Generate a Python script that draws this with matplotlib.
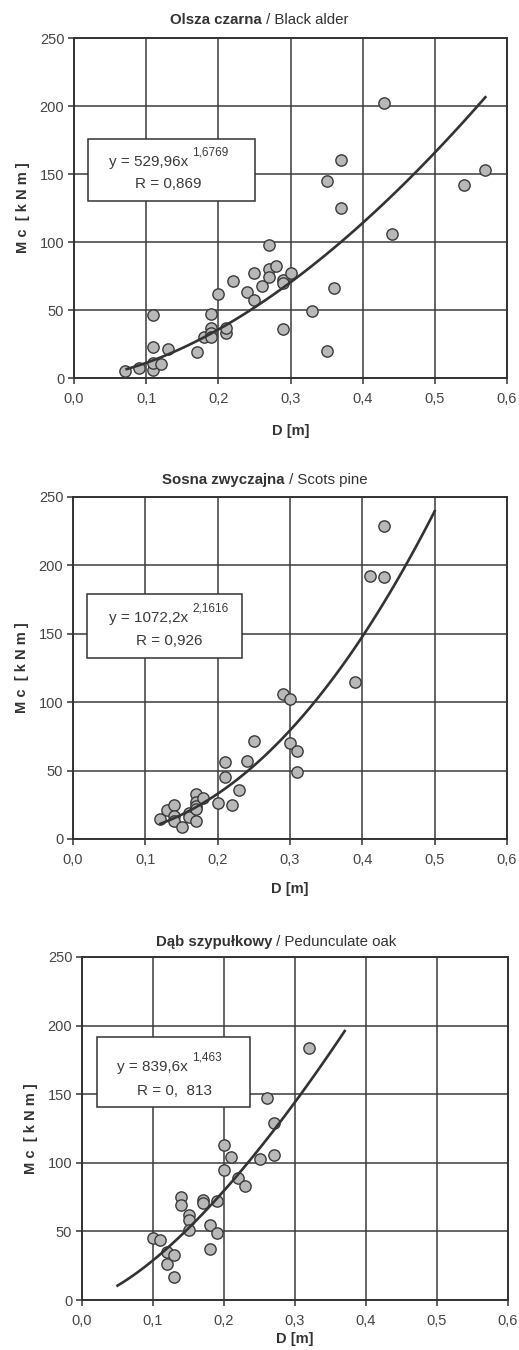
import numpy as np
import matplotlib.pyplot as plt
from matplotlib.patches import Rectangle

plt.rcParams['font.family'] = ['Liberation Sans', 'DejaVu Sans']

# Olsza czarna / Black alder
alder_d = [0.07, 0.09, 0.11, 0.11, 0.11, 0.11, 0.12, 0.13, 0.17, 0.18, 0.19, 0.19,
           0.19, 0.19, 0.20, 0.21, 0.21, 0.22, 0.24, 0.25, 0.25, 0.26, 0.27, 0.27,
           0.27, 0.28, 0.29, 0.29, 0.29, 0.30, 0.33, 0.35, 0.35, 0.36, 0.37, 0.37,
           0.43, 0.44, 0.54, 0.57]
alder_mc = [5, 7, 46, 23, 6, 11, 10, 21.5, 19, 30, 47, 37, 33, 30, 61.5, 33, 37, 71,
            63, 77, 57, 68, 98, 80, 74, 82, 72, 70, 36, 77, 49, 145, 20, 66, 160, 125,
            202, 106, 142, 153]

# Sosna zwyczajna / Scots pine
pine_d = [0.12, 0.13, 0.14, 0.14, 0.14, 0.15, 0.16, 0.16, 0.17, 0.17, 0.17, 0.17,
          0.17, 0.18, 0.20, 0.21, 0.21, 0.22, 0.23, 0.24, 0.25, 0.29, 0.30, 0.30,
          0.31, 0.31, 0.39, 0.41, 0.43, 0.43]
pine_mc = [14.5, 21, 25, 17, 13, 9, 19, 16, 33, 27, 24, 22, 13, 30, 26, 56, 45, 25,
           36, 57, 72, 106, 102, 70, 64, 49, 115, 192.5, 191.5, 229]

# Dąb szypułkowy / Pedunculate oak
oak_d = [0.10, 0.11, 0.12, 0.12, 0.13, 0.13, 0.14, 0.14, 0.15, 0.15, 0.15, 0.17,
         0.17, 0.18, 0.18, 0.19, 0.19, 0.20, 0.20, 0.21, 0.22, 0.23, 0.25, 0.26,
         0.27, 0.27, 0.32]
oak_mc = [45, 44, 35, 26, 33, 17, 75, 69, 62, 58, 51, 73, 71, 55, 37, 49, 72, 113,
          95, 104, 89, 83, 103, 147, 129, 106, 184]

# trend lines y = a * x^b, drawn over the range shown
fit_a = [529.96, 1072.2, 839.6]
fit_b = [1.6769, 2.1616, 1.463]
fit_range = [(0.073, 0.57), (0.121, 0.50), (0.05, 0.37)]

eq_main = ['y = 529,96x', 'y = 1072,2x', 'y = 839,6x']
eq_pow = ['1,6769', '2,1616', '1,463']
eq_r = ['R = 0,869', 'R = 0,926', 'R = 0,  813']

titles_bold = ['Olsza czarna', 'Sosna zwyczajna', 'Dąb szypułkowy']
titles_norm = [' / Black alder', ' / Scots pine', ' / Pedunculate oak']

xticks = [0.0, 0.1, 0.2, 0.3, 0.4, 0.5, 0.6]
yticks = [0, 50, 100, 150, 200, 250]

# layout in pixels (left, top, right, bottom), title split x, title y
W, H = 519, 1350
boxes_px = [(74, 38, 507, 378), (73, 497, 507, 839), (82, 957, 508, 1300)]
title_px = [(262, 20), (285, 480), (272, 942)]
xlabel_pad = [13, 11, 3]
# equation box (x0, x1, y0, y1) in data, text positions in data
eq_box = [(0.019, 0.251, 130, 175.6), (0.0198, 0.234, 132, 179), (0.021, 0.237, 141, 192)]
eq_xy = [(0.103, 158.8), (0.105, 161.5), (0.099, 170)]
r_xy = [(0.130, 143), (0.133, 145), (0.1296, 152.5)]

dark = '#333333'

fig = plt.figure(figsize=(W / 100, H / 100), dpi=100)

panels = [(alder_d, alder_mc), (pine_d, pine_mc), (oak_d, oak_mc)]
for i, (d, mc) in enumerate(panels):
    l, t, r, b = boxes_px[i]
    ax = fig.add_axes([l / W, 1 - b / H, (r - l) / W, (b - t) / H])
    ax.set_xlim(0, 0.6)
    ax.set_ylim(0, 250)
    ax.set_xticks(xticks)
    ax.set_yticks(yticks)
    ax.set_xticklabels([('%.1f' % v).replace('.', ',') for v in xticks])
    ax.grid(True, color='#3c3c3c', lw=1.1)
    ax.set_axisbelow(True)
    for s in ax.spines.values():
        s.set_color(dark)
        s.set_linewidth(1.4)
    ax.tick_params(direction='out', length=4, width=1.1, color=dark,
                   labelsize=10.5, labelcolor='#454545')
    ax.tick_params(axis='x', pad=6)
    ax.tick_params(axis='y', pad=3)

    ax.scatter(d, mc, s=66, c='#b8b8b8', edgecolors='#3a3a3a', linewidths=1.0, zorder=3)

    x0, x1 = fit_range[i]
    xs = np.linspace(x0, x1, 100)
    ax.plot(xs, fit_a[i] * xs ** fit_b[i], color=dark, lw=1.9, zorder=4)

    bx0, bx1, by0, by1 = eq_box[i]
    ax.add_patch(Rectangle((bx0, by0), bx1 - bx0, by1 - by0, facecolor='white',
                           edgecolor=dark, lw=1.1, zorder=5))
    tx = ax.text(eq_xy[i][0], eq_xy[i][1], eq_main[i], ha='center', va='center',
                 fontsize=11, color='#3a3a3a', zorder=6)
    ax.annotate(eq_pow[i], xy=(1, 0.72), xycoords=tx, xytext=(3, 0),
                textcoords='offset points', ha='left', va='bottom',
                fontsize=8.5, color='#3a3a3a', zorder=6)
    ax.text(r_xy[i][0], r_xy[i][1], eq_r[i], ha='center', va='center',
            fontsize=11, color='#3a3a3a', zorder=6)

    ax.set_ylabel('M c  [ k N m ]', fontsize=10.5, fontweight='bold', color=dark, labelpad=7)
    ax.set_xlabel('D [m]', fontsize=10.5, fontweight='bold', color=dark,
                  labelpad=xlabel_pad[i])

    sx, sy = title_px[i]
    fig.text(sx / W, 1 - sy / H, titles_bold[i], ha='right', va='center',
             fontsize=10.8, fontweight='bold', color=dark)
    fig.text(sx / W, 1 - sy / H, titles_norm[i], ha='left', va='center',
             fontsize=10.8, color=dark)

fig.savefig('out.png', dpi=100, facecolor='white')
